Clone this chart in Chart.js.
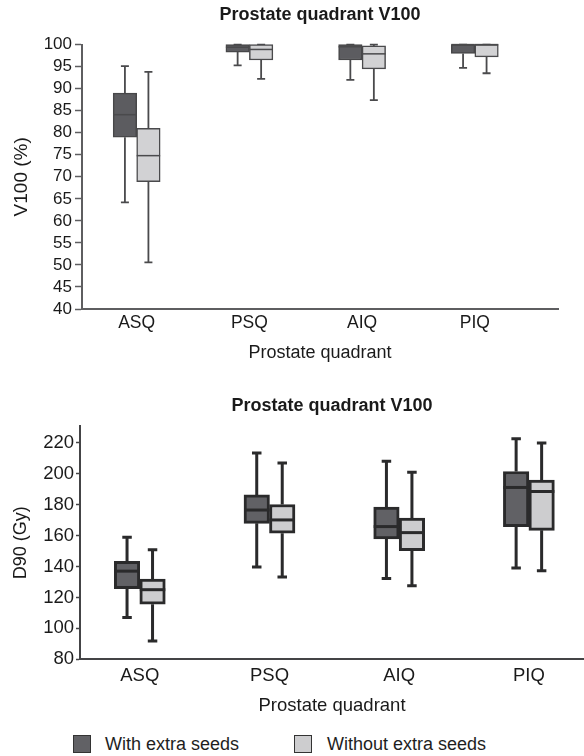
<!DOCTYPE html>
<html>
<head>
<meta charset="utf-8">
<script src="https://cdn.jsdelivr.net/npm/chart.js@4.4.1/dist/chart.umd.min.js"></script>
<style>
  body { margin: 0; background: #fff; width: 584px; height: 756px; overflow: hidden; position: relative; font-family: "Liberation Sans", Arial, sans-serif; }
  #topChart { position: absolute; left: 0; top: 0; }
  #bottomChart { position: absolute; left: 0; top: 375px; }
  #legend { position: absolute; left: 0; top: 720px; width: 584px; height: 36px; font-size: 18px; color: #1e1e1e; }
  .sw { position: absolute; top: 15px; width: 16px; height: 16px; border: 1.5px solid #333; }
  .lbl { position: absolute; top: 14px; line-height: 20px; white-space: nowrap; }
</style>
</head>
<body>
<canvas id="topChart" width="584" height="375"></canvas>
<canvas id="bottomChart" width="584" height="345"></canvas>
<div id="legend">
  <span class="sw" style="left:73px; background:#616165;"></span>
  <span class="lbl" style="left:105px;">With extra seeds</span>
  <span class="sw" style="left:294px; background:#cdcdcf;"></span>
  <span class="lbl" style="left:327px;">Without extra seeds</span>
</div>
<script>
const quadrants = ['ASQ', 'PSQ', 'AIQ', 'PIQ']

// V100 (%) - with extra seeds
const v100WithMin = [64.2, 95.3, 92.0, 94.7]
const v100WithQ1 = [79.0, 98.3, 96.5, 98.0]
const v100WithMedian = [84.1, 99.4, 99.5, 100]
const v100WithQ3 = [89.0, 100, 100, 100]
const v100WithMax = [95.1, 100, 100, 100]
// V100 (%) - without extra seeds
const v100WithoutMin = [50.6, 92.2, 87.4, 93.5]
const v100WithoutQ1 = [68.9, 96.5, 94.5, 97.2]
const v100WithoutMedian = [74.8, 98.9, 97.9, 100]
const v100WithoutQ3 = [81.0, 100, 99.7, 100]
const v100WithoutMax = [93.8, 100, 100, 100]

// D90 (Gy) - with extra seeds
const d90WithMin = [107.0, 139.6, 132.3, 139.0]
const d90WithQ1 = [125.7, 167.9, 157.8, 165.8]
const d90WithMedian = [137.0, 176.5, 165.8, 191.1]
const d90WithQ3 = [143.3, 186.3, 178.4, 201.4]
const d90WithMax = [158.9, 213.4, 208.0, 222.6]
// D90 (Gy) - without extra seeds
const d90WithoutMin = [91.8, 133.2, 127.6, 137.3]
const d90WithoutQ1 = [115.6, 161.5, 150.3, 163.4]
const d90WithoutMedian = [125.0, 170.1, 161.9, 188.5]
const d90WithoutQ3 = [131.9, 180.1, 171.3, 195.8]
const d90WithoutMax = [150.8, 206.9, 200.9, 219.8]

const v100Ticks = [40, 45, 50, 55, 60, 65, 70, 75, 80, 85, 90, 95, 100]
const d90Ticks = [80, 100, 120, 140, 160, 180, 200, 220]

const FONT = '"Liberation Sans", Arial, Helvetica, sans-serif'

// whiskers go under the boxes, medians on top of them
const boxPlugin = {
    id: 'boxParts',
    beforeDatasetsDraw(chart, args, opts) {
        const ctx = chart.ctx
        const y = chart.scales.y
        ctx.save()
        ctx.strokeStyle = opts.color
        ctx.lineWidth = opts.whiskerWidth
        chart.data.datasets.forEach((ds, i) => {
            chart.getDatasetMeta(i).data.forEach((bar, j) => {
                const x = bar.x
                const yMin = y.getPixelForValue(ds.lows[j])
                const yMax = y.getPixelForValue(ds.highs[j])
                const yQ1 = y.getPixelForValue(ds.data[j].y[0])
                const yQ3 = y.getPixelForValue(ds.data[j].y[1])
                const c = opts.capWidth / 2
                ctx.beginPath()
                ctx.moveTo(x, yQ1); ctx.lineTo(x, yMin)
                ctx.moveTo(x - c, yMin); ctx.lineTo(x + c, yMin)
                ctx.moveTo(x, yQ3); ctx.lineTo(x, yMax)
                ctx.moveTo(x - c, yMax); ctx.lineTo(x + c, yMax)
                ctx.stroke()
            })
        })
        ctx.restore()
    },
    afterDatasetsDraw(chart, args, opts) {
        const ctx = chart.ctx
        const y = chart.scales.y
        ctx.save()
        ctx.strokeStyle = opts.color
        ctx.lineWidth = opts.medianWidth
        chart.data.datasets.forEach((ds, i) => {
            chart.getDatasetMeta(i).data.forEach((bar, j) => {
                const yMed = y.getPixelForValue(ds.medians[j])
                ctx.beginPath()
                ctx.moveTo(bar.x - bar.width / 2, yMed)
                ctx.lineTo(bar.x + bar.width / 2, yMed)
                ctx.stroke()
            })
        })
        ctx.restore()
    }
}

const makeSet = (label, q1, q3, lows, highs, medians, fill, border, bw, thick) => ({
    label: label,
    data: quadrants.map((q, i) => ({ x: i, y: [q1[i], q3[i]] })),
    lows: lows,
    highs: highs,
    medians: medians,
    backgroundColor: fill,
    borderColor: border,
    borderWidth: bw,
    borderSkipped: false,
    barThickness: thick,
    clip: false
})

const makeChart = (id, cfg) => {
    const ctx = document.querySelector(id).getContext('2d')
    return new Chart(ctx, {
        type: 'bar',
        data: { datasets: cfg.datasets },
        plugins: [boxPlugin],
        options: {
            responsive: false,
            animation: false,
            devicePixelRatio: 1,
            layout: { padding: { left: 0, right: cfg.padRight, top: 0, bottom: 0 } },
            plugins: {
                legend: { display: false },
                tooltip: { enabled: false },
                title: {
                    display: true,
                    text: 'Prostate quadrant V100',
                    fullSize: false,
                    color: '#1a1a1a',
                    font: { family: FONT, size: 18, weight: 'bold' },
                    padding: cfg.titlePad
                },
                boxParts: cfg.parts
            },
            scales: {
                x: {
                    type: 'linear',
                    min: cfg.xMin,
                    max: cfg.xMax,
                    offset: false,
                    afterBuildTicks: s => { s.ticks = quadrants.map((q, i) => ({ value: i })) },
                    afterFit: s => { s.height = cfg.xHeight },
                    ticks: {
                        callback: v => quadrants[v],
                        autoSkip: false,
                        maxRotation: 0,
                        padding: cfg.xTickPad,
                        color: '#1a1a1a',
                        font: { family: FONT, size: cfg.catSize }
                    },
                    grid: { display: true, drawOnChartArea: false, drawTicks: false, offset: false },
                    border: { display: true, color: cfg.axisColor, width: 2 },
                    title: {
                        display: true,
                        text: 'Prostate quadrant',
                        color: '#1a1a1a',
                        font: { family: FONT, size: cfg.xTitleSize },
                        padding: { top: 0, bottom: cfg.xTitlePad }
                    }
                },
                y: {
                    min: cfg.yMin,
                    max: cfg.yMax,
                    afterBuildTicks: s => { s.ticks = cfg.yTicks.map(v => ({ value: v })) },
                    afterFit: s => { s.width = cfg.yWidth },
                    ticks: {
                        autoSkip: false,
                        padding: cfg.yTickPad,
                        color: '#1a1a1a',
                        font: { family: FONT, size: cfg.tickSize }
                    },
                    grid: {
                        drawOnChartArea: false,
                        drawTicks: true,
                        tickLength: cfg.tickLen,
                        tickColor: cfg.axisColor,
                        tickWidth: 1.5
                    },
                    border: { display: true, color: cfg.axisColor, width: 2 },
                    title: {
                        display: true,
                        text: cfg.yTitle,
                        color: '#1a1a1a',
                        font: { family: FONT, size: cfg.yTitleSize },
                        padding: { top: 10, bottom: 0 }
                    }
                }
            }
        }
    })
}

makeChart('#topChart', {
    datasets: [
        makeSet('With extra seeds', v100WithQ1, v100WithQ3, v100WithMin, v100WithMax, v100WithMedian, '#5c5c60', '#474749', 1.5, 23.5),
        makeSet('Without extra seeds', v100WithoutQ1, v100WithoutQ3, v100WithoutMin, v100WithoutMax, v100WithoutMedian, '#d2d2d4', '#4a4a4c', 1.5, 23.5)
    ],
    parts: { color: '#4a4a4c', whiskerWidth: 1.8, medianWidth: 1.5, capWidth: 8 },
    padRight: 26,
    titlePad: { top: 4, bottom: 19 },
    xMin: -0.485, xMax: 3.738,
    xHeight: 66, xTickPad: 4, catSize: 17.5,
    xTitleSize: 18, xTitlePad: 11,
    yMin: 40, yMax: 100, yTicks: v100Ticks,
    yWidth: 82, yTickPad: 3, tickLen: 7, tickSize: 17,
    yTitle: 'V100 (%)', yTitleSize: 19,
    axisColor: '#5e5e60'
})

makeChart('#bottomChart', {
    datasets: [
        makeSet('With extra seeds', d90WithQ1, d90WithQ3, d90WithMin, d90WithMax, d90WithMedian, '#616165', '#2a2a2b', 3, 25.5),
        makeSet('Without extra seeds', d90WithoutQ1, d90WithoutQ3, d90WithoutMin, d90WithoutMax, d90WithoutMedian, '#cdcdcf', '#2a2a2b', 3, 25.5)
    ],
    parts: { color: '#2a2a2b', whiskerWidth: 3, medianWidth: 3, capWidth: 9.5 },
    padRight: 0,
    titlePad: { top: 20, bottom: 9.6 },
    xMin: -0.461, xMax: 3.425,
    xHeight: 60.7, xTickPad: 5.6, catSize: 18.5,
    xTitleSize: 18.5, xTitlePad: 3,
    yMin: 80, yMax: 230.7, yTicks: d90Ticks,
    yWidth: 80, yTickPad: 2, tickLen: 4, tickSize: 18.5,
    yTitle: 'D90 (Gy)', yTitleSize: 18,
    axisColor: '#444446'
})
</script>
</body>
</html>
